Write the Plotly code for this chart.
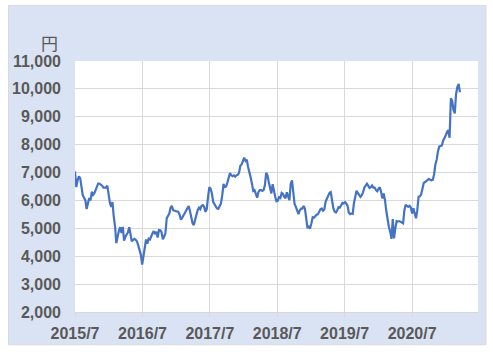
import pandas as pd
import plotly.graph_objects as go

# Weekly closing prices (yen), one list per year starting each July
price_2015_16 = [7040, 6480, 6720, 6860, 6800, 6540, 6190, 6100, 6010, 5690, 5910, 6090, 6000,
                 6310, 6200, 6260, 6380, 6500, 6610, 6600, 6570, 6530, 6460, 6460, 6460, 6530,
                 6190, 5930, 5770, 5940, 5420, 5070, 4470, 4780, 4920, 5040, 4830, 5050, 4560,
                 4700, 4760, 4860, 5040, 4750, 4530, 4590, 4620, 4590, 4530, 4380, 4190, 4050]
price_2016_17 = [3700, 4050, 4340, 4600, 4450, 4630, 4600, 4730, 4820, 4900, 4790, 4880, 4670,
                 4940, 4930, 4860, 4610, 4700, 4820, 5360, 5470, 5530, 5740, 5810, 5650, 5640,
                 5620, 5620, 5590, 5490, 5310, 5380, 5460, 5530, 5620, 5710, 5800, 5620, 5450,
                 5180, 5120, 5360, 5490, 5650, 5740, 5690, 5810, 5830, 5770, 5590, 5690, 6130]
price_2017_18 = [6480, 6420, 6250, 5940, 5870, 5780, 5710, 5700, 5800, 5890, 6190, 6590, 6480,
                 6500, 6650, 6870, 6980, 6900, 6870, 6900, 6850, 6900, 6920, 6990, 7240, 7290,
                 7410, 7530, 7420, 7460, 7200, 6930, 6820, 6600, 6340, 6370, 6220, 6100, 6300,
                 6370, 6370, 6340, 6370, 6540, 6990, 6900, 6660, 6370, 6250, 6580, 6300, 6130]
price_2018_19 = [5970, 5990, 6120, 6090, 6270, 6230, 6130, 6080, 6290, 6130, 6010, 6600, 6720,
                 6300, 5870, 5770, 5620, 5510, 5640, 5710, 5710, 5800, 5710, 5330, 5010, 5060,
                 4990, 5180, 5400, 5380, 5450, 5490, 5500, 5620, 5680, 5710, 5630, 5680, 5950,
                 6060, 6150, 6270, 6300, 5990, 5720, 5600, 5570, 5640, 5760, 5740, 5850, 5910]
price_2019_20 = [5890, 5940, 5890, 5810, 5560, 5510, 5530, 5520, 5920, 6200, 6350, 6260, 6190,
                 6130, 6190, 6290, 6460, 6550, 6600, 6530, 6450, 6480, 6540, 6460, 6460, 6370,
                 6330, 6420, 6470, 6300, 6070, 6250, 6010, 5620, 5300, 5060, 4880, 4620, 5330,
                 4640, 5000, 5260, 5240, 5260, 5240, 5200, 5180, 5650, 5850, 5800, 5770, 5810]
price_2020_21 = [5750, 5530, 5720, 5530, 5360, 5650, 6130, 6150, 6220, 6420, 6630, 6660, 6700,
                 6760, 6770, 6740, 6720, 6740, 6930, 7290, 7460, 7760, 7930, 7950, 7970, 8140,
                 8220, 8330, 8450, 8520, 8250, 9660, 9570, 9240, 9120, 9810, 10070, 10180, 9880]

prices = (price_2015_16 + price_2016_17 + price_2017_18 + price_2018_19
          + price_2019_20 + price_2020_21)
dates = pd.date_range(start="2015-07-01", periods=len(prices), freq="7D")

tick_dates = ["2015-07-01", "2016-07-01", "2017-07-01", "2018-07-01", "2019-07-01", "2020-07-01"]
tick_labels = ["2015/7", "2016/7", "2017/7", "2018/7", "2019/7", "2020/7"]
y_ticks = [2000, 3000, 4000, 5000, 6000, 7000, 8000, 9000, 10000, 11000]
unit_label = "円"

W, H = 493, 354
L, R, T, B = 72, 15, 61, 40
pw, ph = W - L - R, H - T - B

def px_x(p):
    return (p - L) / pw

def px_y(p):
    return (H - B - p) / ph

fig = go.Figure()
fig.add_trace(go.Scatter(x=dates, y=prices, mode="lines",
                         line=dict(color="#4472C4", width=2.2), hoverinfo="skip"))

font = dict(family="Liberation Sans, Arial, sans-serif", size=16, color="#595959", weight="bold")

fig.update_layout(
    width=W, height=H,
    margin=dict(l=L, r=R, t=T, b=B, pad=0),
    paper_bgcolor="white", plot_bgcolor="white",
    showlegend=False,
    shapes=[
        dict(type="rect", xref="paper", yref="paper", layer="below",
             x0=px_x(5), x1=px_x(486), y0=px_y(347), y1=px_y(5),
             fillcolor="#DAE3F3", line=dict(color="#D9D9D9", width=1)),
        dict(type="rect", xref="paper", yref="paper", layer="below",
             x0=0, x1=1, y0=0, y1=1, fillcolor="white", line=dict(width=0)),
    ],
    annotations=[
        dict(text=unit_label, xref="paper", yref="paper", x=px_x(57), y=px_y(42),
             xanchor="right", yanchor="middle", showarrow=False,
             font=dict(family="Noto Sans CJK JP", size=17, color="#595959")),
    ],
)

fig.update_xaxes(
    type="date", range=["2015-07-01", "2021-06-23"],
    tickmode="array", tickvals=tick_dates, ticktext=tick_labels,
    showgrid=True, gridcolor="#D9D9D9", gridwidth=1,
    showline=True, linecolor="#D9D9D9", linewidth=1,
    ticks="outside", ticklen=4, tickcolor="#D9D9D9", ticklabelstandoff=3,
    tickfont=font, zeroline=False,
)
fig.update_yaxes(
    range=[2000, 11000], tickmode="array", tickvals=y_ticks, tickformat=",",
    showgrid=True, gridcolor="#D9D9D9", gridwidth=1,
    showline=False, ticks="", ticklabelstandoff=13,
    tickfont=font, zeroline=False,
)

fig.write_html("out.html")
